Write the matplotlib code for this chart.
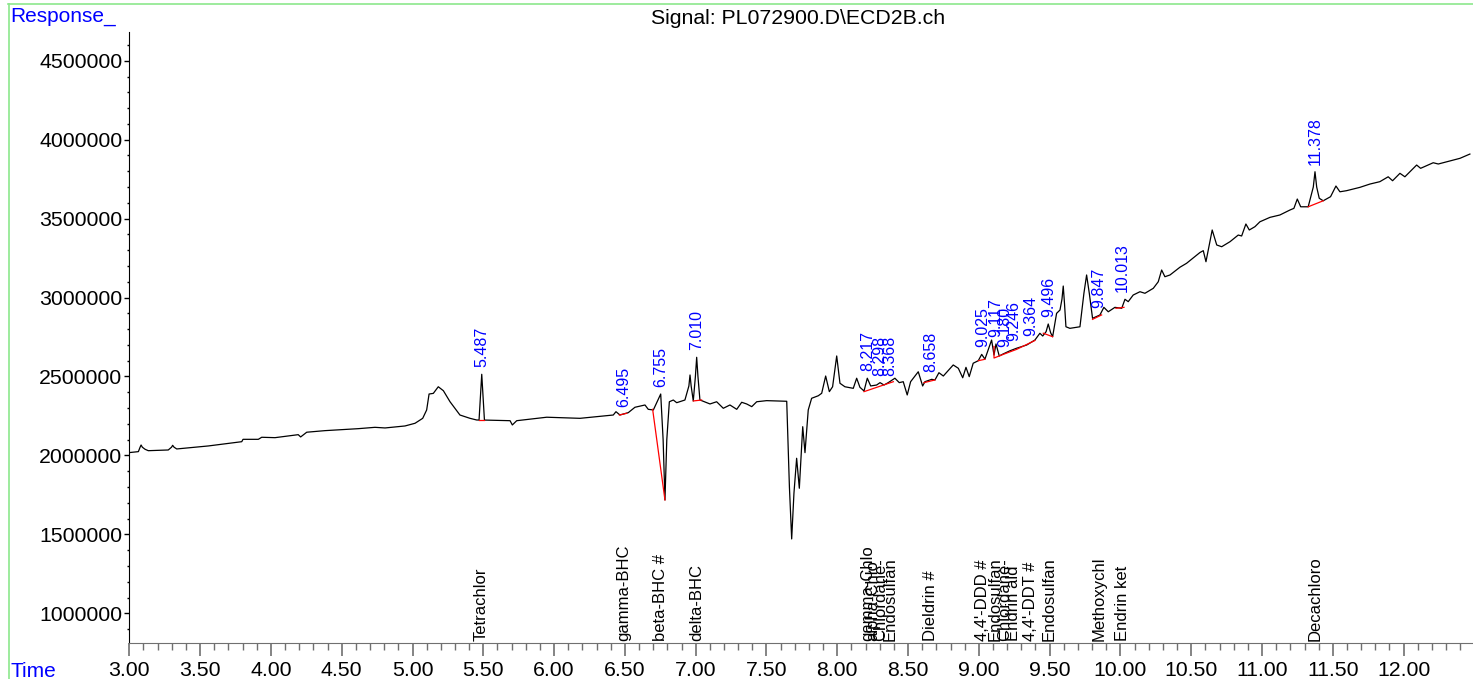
import matplotlib
matplotlib.use("Agg")
import matplotlib.pyplot as plt
import numpy as np
from matplotlib.lines import Line2D
from matplotlib.ticker import MultipleLocator, FormatStrFormatter

plt.rcParams['font.family'] = ['Liberation Sans', 'DejaVu Sans']

# signal trace (time in min, response)
time = [3.000, 3.064, 3.075, 3.083, 3.092, 3.111, 3.134, 3.275, 3.298, 3.306, 3.316, 3.335, 3.558, 3.794,
        3.803, 3.911, 3.935, 4.029, 4.193, 4.210, 4.253, 4.382, 4.617, 4.735,
        4.806, 4.947, 5.018, 5.072, 5.100, 5.117, 5.147, 5.182, 5.218, 5.265,
        5.335, 5.406, 5.453, 5.470, 5.480, 5.489, 5.498, 5.508, 5.689, 5.705, 5.736, 5.948,
        6.183, 6.418, 6.437, 6.465, 6.524, 6.571, 6.642, 6.665, 6.701, 6.753,
        6.770, 6.783, 6.796, 6.814, 6.842, 6.866, 6.924, 6.952, 6.960, 6.968, 6.983, 6.998, 7.007, 7.016, 7.030, 7.042,
        7.101, 7.148, 7.195, 7.242, 7.290, 7.325, 7.360, 7.396, 7.431, 7.501,
        7.643, 7.662, 7.678, 7.694, 7.713, 7.732, 7.756, 7.772, 7.795, 7.819, 7.866, 7.890,
        7.918, 7.944, 7.967, 7.996, 8.019, 8.054, 8.113, 8.137, 8.160, 8.189,
        8.212, 8.236, 8.278, 8.302, 8.330, 8.360, 8.407, 8.438, 8.466, 8.494,
        8.518, 8.572, 8.603, 8.619, 8.667, 8.690, 8.718, 8.749, 8.819, 8.855,
        8.886, 8.909, 8.932, 8.960, 8.996, 9.020, 9.043, 9.090, 9.107, 9.121,
        9.144, 9.172, 9.220, 9.267, 9.338, 9.396, 9.431, 9.451, 9.475, 9.490,
        9.507, 9.521, 9.549, 9.573, 9.587, 9.596, 9.605, 9.615, 9.643, 9.714, 9.742, 9.761,
        9.780, 9.803, 9.855, 9.883, 9.914, 9.961, 10.009, 10.032, 10.055, 10.090,
        10.138, 10.173, 10.232, 10.267, 10.291, 10.314, 10.350, 10.420, 10.467, 10.561,
        10.585, 10.604, 10.648, 10.680, 10.715, 10.774, 10.832, 10.856, 10.886, 10.910,
        10.950, 10.985, 11.056, 11.126, 11.197, 11.225, 11.249, 11.273, 11.326, 11.362, 11.374, 11.386,
        11.404, 11.432, 11.484, 11.522, 11.550, 11.597, 11.691, 11.762, 11.832, 11.891,
        11.922, 11.974, 12.009, 12.045, 12.092, 12.120, 12.209, 12.245, 12.304, 12.398,
        12.468]
response = [2018000, 2024000, 2050000, 2066000, 2052000, 2039000, 2030000, 2034500, 2052000, 2064000, 2052000, 2041000, 2060000, 2087000,
            2102000, 2102000, 2115000, 2112500, 2131500, 2117000, 2147000, 2157000, 2169500, 2178000,
            2174000, 2186600, 2203700, 2235000, 2288000, 2389000, 2393000, 2435000, 2410000, 2340000,
            2256000, 2235000, 2224500, 2224000, 2380000, 2514000, 2380000, 2224000, 2220000, 2193000, 2220000, 2242000,
            2235000, 2256000, 2277000, 2256000, 2271000, 2305000, 2319500, 2292000, 2288000, 2389000,
            2100000, 1718000, 2100000, 2340000, 2351000, 2334000, 2351000, 2440000, 2509500, 2440000, 2345000, 2500000, 2621600, 2500000, 2351000, 2347000,
            2326000, 2340000, 2298600, 2319500, 2292000, 2336600, 2326000, 2309000, 2340000, 2347000,
            2343000, 1800000, 1471000, 1760000, 1982000, 1792000, 2182000, 2017500, 2288000, 2362000, 2378000, 2393600,
            2503000, 2404000, 2435000, 2630000, 2457000, 2435000, 2425000, 2489000, 2431600, 2408000,
            2489000, 2440000, 2446000, 2461000, 2446000, 2461000, 2489000, 2461000, 2467000, 2383000,
            2467000, 2530000, 2440000, 2467000, 2482000, 2478000, 2524000, 2503000, 2573000, 2552000,
            2492000, 2558000, 2499000, 2584000, 2600000, 2640000, 2610000, 2731000, 2636000, 2706000,
            2630000, 2643000, 2663000, 2679000, 2699500, 2731000, 2773600, 2756500, 2784000, 2832500,
            2777000, 2752000, 2900000, 2921000, 2990000, 3073000, 2960000, 2815000, 2805000, 2815000, 3027000, 3143000,
            3027000, 2868600, 2889500, 2938000, 2910000, 2938000, 2932000, 2989000, 2974000, 3016000,
            3037000, 3027000, 3058600, 3100000, 3174500, 3132000, 3143000, 3192000, 3217000, 3285000,
            3297000, 3227000, 3428000, 3333000, 3322000, 3354000, 3396000, 3390000, 3466000, 3428000,
            3449000, 3480000, 3508000, 3523000, 3554500, 3565000, 3624000, 3575000, 3575000, 3700000, 3797000, 3700000,
            3629000, 3613000, 3639000, 3706500, 3670000, 3677000, 3698000, 3719000, 3734000, 3765000,
            3740000, 3787000, 3765000, 3797000, 3839500, 3818600, 3854000, 3846000, 3860000, 3882000,
            3909000]

# integrated peaks (retention times) and their baselines
peak_rt = [5.487, 6.495, 6.755, 7.010, 8.217, 8.298, 8.368, 8.658, 9.025,
           9.117, 9.180, 9.246, 9.364, 9.496, 9.847, 10.013, 11.378]
baselines = [
    ([5.470, 5.508], [2224000, 2224000]),
    ([6.461, 6.513], [2256000, 2267000]),
    ([6.696, 6.783], [2292000, 1718000]),
    ([6.983, 7.042], [2345000, 2351000]),
    ([8.189, 8.396], [2404000, 2467000]),
    ([8.612, 8.690], [2461000, 2478000]),
    ([8.996, 9.043], [2600000, 2609000]),
    ([9.107, 9.107, 9.172, 9.267, 9.396], [2690000, 2617000, 2640000, 2672000, 2728000]),
    ([9.455, 9.521], [2774000, 2752000]),
    ([9.803, 9.867], [2862000, 2890000]),
    ([9.968, 10.025], [2932000, 2938000]),
    ([11.326, 11.432], [3575000, 3613000]),
]

# compound names printed along the time axis
compound_rt = [5.487, 6.495, 6.755, 7.010, 8.212, 8.254, 8.303, 8.374, 8.658,
               9.025, 9.117, 9.180, 9.246, 9.364, 9.496, 9.847, 10.013, 11.378]
compound_names = ["Tetrachlor", "gamma-BHC", "beta-BHC #", "delta-BHC",
                  "gamma-Chlo", "alpha-Chlo", "Chlordane-", "Endosulfan",
                  "Dieldrin #", "4,4'-DDD #", "Endosulfan", "Chlordane-",
                  "Endrin ald", "4,4'-DDT #", "Endosulfan", "Methoxychl",
                  "Endrin ket", "Decachloro"]

fig = plt.figure(figsize=(14.73, 6.79), dpi=100)
ax = fig.add_axes([0.0878, 0.0526, 0.9122, 0.9007])

t = np.array(time)
r = np.array(response)
ax.plot(t, r, color="black", lw=0.9)
for bx, by in baselines:
    ax.plot(bx, by, color="red", lw=0.9)

# retention time labels above each peak
for rt in peak_rt:
    near = (t >= rt - 0.025) & (t <= rt + 0.025)
    top = r[near].max() if near.any() else np.interp(rt, t, r)
    ax.annotate(f"{rt:.3f}", (rt, top), xytext=(0, 5), textcoords="offset points",
                rotation=90, ha="center", va="bottom", color="blue", fontsize=11.5)

ax.set_xlim(3.0, 12.49)
ax.set_ylim(810000, 4684000)
for rt, name in zip(compound_rt, compound_names):
    ax.annotate(name, (rt, 810000), xytext=(0, 2), textcoords="offset points",
                rotation=90, ha="center", va="bottom", color="black", fontsize=12)

ax.xaxis.set_major_locator(MultipleLocator(0.5))
ax.xaxis.set_minor_locator(MultipleLocator(0.1))
ax.xaxis.set_major_formatter(FormatStrFormatter("%.2f"))
ax.yaxis.set_major_locator(MultipleLocator(500000))
ax.yaxis.set_minor_locator(MultipleLocator(100000))
ax.yaxis.set_major_formatter(FormatStrFormatter("%d"))

ax.spines["top"].set_visible(False)
ax.spines["right"].set_visible(False)
ax.spines["bottom"].set_color("#707070")
ax.spines["left"].set_color("black")
ax.tick_params(axis="x", which="major", length=9.5, width=1.2, color="#707070",
               labelsize=15.3, pad=3)
ax.tick_params(axis="x", which="minor", length=5, width=1, color="#707070")
ax.tick_params(axis="y", which="major", length=3.6, width=1, labelsize=15.3, pad=1.5)
ax.tick_params(axis="y", which="minor", length=1.8, width=1)

fig.text(0.5418, 0.987, "Signal: PL072900.D\\ECD2B.ch", ha="center", va="top", fontsize=15.3)
fig.text(0.0068, 0.99, "Response_", ha="left", va="top", color="blue", fontsize=15)
fig.text(0.0068, 0.025, "Time", ha="left", va="top", color="blue", fontsize=15)

# light green frame at the top and left of the page
fig.add_artist(Line2D([0.0054, 1.0], [0.9945, 0.9945], color="#8ce88c", lw=1.2))
fig.add_artist(Line2D([0.0058, 0.0058], [0.0, 0.9945], color="#8ce88c", lw=1.2))

fig.savefig("out.png", dpi=100)
